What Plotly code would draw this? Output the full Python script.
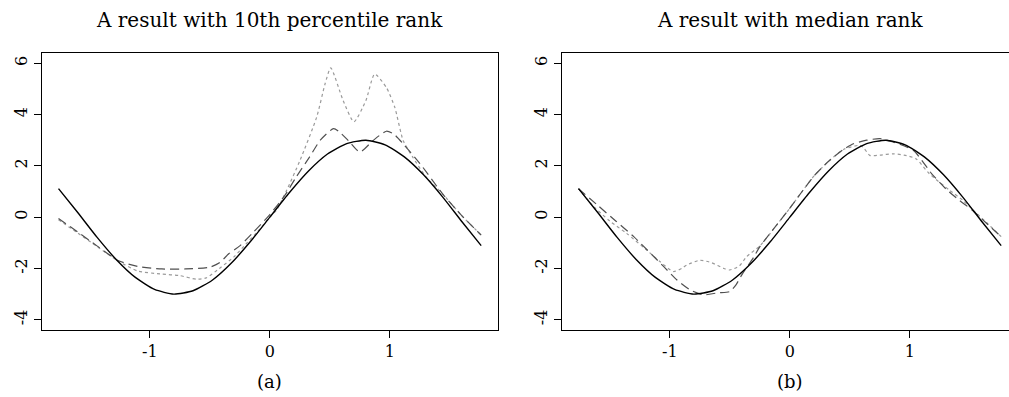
import plotly.graph_objects as go

# ---------------- data ----------------
# true curve (solid), same in both panels
x_true = [-1.76, -1.60, -1.44, -1.28, -1.12, -0.96, -0.80, -0.64, -0.48, -0.32, -0.16, 0.00,
          0.16, 0.32, 0.48, 0.64, 0.80, 0.96, 1.12, 1.28, 1.44, 1.60, 1.76]
y_true = [1.11, 0.18, -0.78, -1.65, -2.35, -2.82, -3.00, -2.87, -2.46, -1.79, -0.94, 0.00,
          0.94, 1.79, 2.46, 2.87, 3.00, 2.82, 2.35, 1.65, 0.78, -0.18, -1.11]

# panel (a): 10th percentile rank
xa_dash = [-1.76, -1.60, -1.44, -1.26, -1.10, -0.90, -0.70, -0.50, -0.42, -0.34, -0.25, -0.15, 0.00,
           0.125, 0.22, 0.33, 0.42, 0.53, 0.58, 0.665, 0.75, 0.86, 0.97, 1.03, 1.11, 1.25, 1.44, 1.60, 1.76]
ya_dash = [-0.05, -0.58, -1.12, -1.70, -1.92, -2.02, -2.02, -1.95, -1.78, -1.42, -1.12, -0.65, 0.10,
           0.85, 1.57, 2.34, 3.00, 3.45, 3.32, 2.93, 2.54, 2.99, 3.35, 3.25, 2.86, 2.09, 0.90, 0.05, -0.70]

xa_dot = [-1.76, -1.60, -1.44, -1.26, -1.10, -0.90, -0.75, -0.61, -0.53, -0.42, -0.30, -0.20, -0.10, 0.00,
          0.055, 0.14, 0.25, 0.39, 0.46, 0.507, 0.61, 0.70, 0.80, 0.873, 0.97, 1.04, 1.11, 1.19, 1.30,
          1.44, 1.60, 1.76]
ya_dot = [-0.10, -0.62, -1.14, -1.72, -2.10, -2.22, -2.28, -2.42, -2.37, -2.00, -1.55, -1.05, -0.55, 0.00,
          0.27, 1.05, 2.20, 3.90, 5.20, 5.82, 4.55, 3.72, 4.55, 5.58, 5.06, 4.29, 2.99, 2.34, 1.57,
          0.90, 0.05, -0.70]

# panel (b): median rank
xb_dash = [-1.76, -1.60, -1.45, -1.30, -1.05, -0.94, -0.83, -0.72, -0.60, -0.50, -0.45, -0.40, -0.30,
           -0.25, -0.10, 0.00, 0.11, 0.20, 0.33, 0.45, 0.53, 0.64, 0.75, 0.86, 1.03, 1.18, 1.30, 1.41,
           1.52, 1.64, 1.76]
yb_dash = [1.11, 0.46, -0.15, -0.76, -1.93, -2.45, -2.84, -3.03, -2.95, -2.90, -2.65, -2.25, -1.55,
           -1.15, -0.25, 0.35, 1.05, 1.60, 2.21, 2.65, 2.86, 3.00, 3.06, 2.93, 2.60, 1.70, 1.10, 0.66,
           0.27, -0.25, -0.76]

xb_dot = [-1.76, -1.63, -1.50, -1.36, -1.20, -1.08, -0.97, -0.90, -0.86, -0.75, -0.65, -0.55, -0.50,
          -0.42, -0.36, -0.25, -0.10, 0.00, 0.11, 0.20, 0.33, 0.45, 0.58, 0.61, 0.665, 0.75, 0.86, 0.95,
          1.05, 1.16, 1.33, 1.44, 1.52, 1.64, 1.76]
yb_dot = [1.11, 0.40, -0.15, -0.63, -1.25, -1.74, -2.12, -2.00, -1.87, -1.68, -1.78, -2.00, -2.06,
          -1.90, -1.54, -1.12, -0.25, 0.35, 1.05, 1.60, 2.21, 2.65, 2.80, 2.73, 2.41, 2.42, 2.47, 2.42,
          2.28, 1.70, 1.05, 0.66, 0.30, -0.22, -0.76]

x_ticks = [-1, 0, 1]
x_tick_text = ["-1", "0", "1"]
y_ticks = [-4, -2, 0, 2, 4, 6]
y_tick_text = ["-4", "-2", "0", "2", "4", "6"]

titles = ["A result with 10th percentile rank", "A result with median rank"]
captions = ["(a)", "(b)"]

# ---------------- figure ----------------
W, H = 1009, 397
FONT = "DejaVu Serif"
fig = go.Figure()

def add_lines(xd, yd, xdot, ydot, xa, ya):
    fig.add_trace(go.Scatter(x=xdot, y=ydot, mode="lines", xaxis=xa, yaxis=ya,
                             line=dict(color="#9a9a9a", width=1.2, dash="3px,3px", shape="spline", smoothing=0.6),
                             showlegend=False, hoverinfo="skip"))
    fig.add_trace(go.Scatter(x=xd, y=yd, mode="lines", xaxis=xa, yaxis=ya,
                             line=dict(color="#505050", width=1.2, dash="9px,5px", shape="spline", smoothing=0.6),
                             showlegend=False, hoverinfo="skip"))
    fig.add_trace(go.Scatter(x=x_true, y=y_true, mode="lines", xaxis=xa, yaxis=ya,
                             line=dict(color="black", width=1.4, shape="spline", smoothing=0.6),
                             showlegend=False, hoverinfo="skip"))

add_lines(xa_dash, ya_dash, xa_dot, ya_dot, "x", "y")
add_lines(xb_dash, yb_dash, xb_dot, yb_dot, "x2", "y2")

plot_l, plot_r = 41.7, 498.0
xb_l = 561.7
scale = (plot_r - plot_l) / 3.8
xb_max = -1.9 + (W - xb_l) / scale

axis_common = dict(showgrid=False, zeroline=False, showline=True, linecolor="black", linewidth=1,
                   ticks="outside", ticklen=7, tickwidth=1, tickcolor="black",
                   tickfont=dict(family=FONT, size=16, color="black"))

fig.update_layout(
    width=W, height=H,
    margin=dict(l=0, r=0, t=53, b=67, autoexpand=False),
    paper_bgcolor="white", plot_bgcolor="white",
    xaxis=dict(domain=[plot_l / W, plot_r / W], range=[-1.9, 1.9], mirror=True,
               tickvals=x_ticks, ticktext=x_tick_text, anchor="y", **axis_common),
    yaxis=dict(range=[-4.4, 6.4], mirror=True, tickvals=y_ticks, ticktext=y_tick_text,
               tickangle=-90, anchor="x", **axis_common),
    xaxis2=dict(domain=[xb_l / W, 1.0], range=[-1.9, xb_max], mirror=True,
                tickvals=x_ticks, ticktext=x_tick_text, anchor="y2", **axis_common),
    yaxis2=dict(range=[-4.4, 6.4], mirror=False, tickvals=y_ticks, ticktext=y_tick_text,
                tickangle=-90, anchor="x2", **axis_common),
)

plot_h = H - 53 - 67
centers = [(plot_l + plot_r) / 2 / W, (xb_l + (790 + 228.3)) / 2 / W]
for cx, t, c in zip(centers, titles, captions):
    fig.add_annotation(x=cx, y=1 + (53 - 20) / plot_h, xref="paper", yref="paper", text=t,
                       showarrow=False, xanchor="center", yanchor="middle",
                       font=dict(family=FONT, size=20, color="black"))
    fig.add_annotation(x=cx, y=(330 - 381) / plot_h - 0.0, xref="paper", yref="paper", text=c,
                       showarrow=False, xanchor="center", yanchor="middle",
                       font=dict(family=FONT, size=18, color="black"))

fig.write_html("out.html")
